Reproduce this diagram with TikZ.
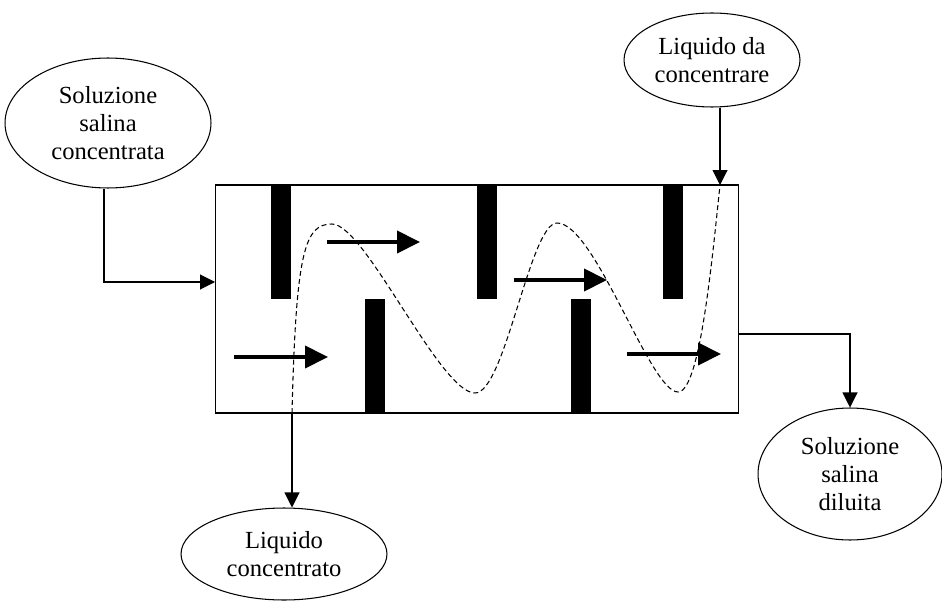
\documentclass[tikz,border=0pt]{standalone}
\usepackage{fontspec}
\setmainfont{Liberation Serif}
\usetikzlibrary{arrows.meta,shapes.geometric}

\tikzset{
  ovale/.style={draw, ellipse, inner sep=0pt, align=center, line width=0.6pt,
    font=\fontsize{14}{16}\selectfont},
  conn/.style={line width=0.6pt, -{Triangle[length=0.3cm,width=0.3cm]}},
  flusso/.style={line width=2.3pt, -{Triangle[length=0.46cm,width=0.44cm]}},
  percorso/.style={line width=0.6pt, dash pattern=on 2.8pt off 1.8pt}
}

\begin{document}
\begin{tikzpicture}[x=0.02cm, y=-0.02cm]

\useasboundingbox (0,0) rectangle (942,601);

\def\wB{20}
\def\hB{114}

\node[draw, line width=0.6pt, minimum width=10.48cm, minimum height=4.56cm] (vasca) at (477,299) {};

\node[ovale, minimum width=4.12cm, minimum height=2.6cm] (ssc) at (108,123) {Soluzione\\salina\\concentrata};
\node[ovale, minimum width=3.52cm, minimum height=1.88cm] (ldc) at (712,60) {Liquido da\\concentrare};
\node[ovale, minimum width=4.12cm, minimum height=1.84cm] (lc) at (284,554) {Liquido\\concentrato};
\node[ovale, minimum width=3.68cm, minimum height=2.64cm] (ssd) at (850,474) {Soluzione\\salina\\diluita};

\coordinate (entrata) at (720,185);
\coordinate (uscita) at (292,413);
\coordinate (sale-in) at (215,282);
\coordinate (sale-out) at (739,334);

\foreach \x in {271,477,663}
  \fill (\x,185) rectangle ++(\wB,\hB);
\foreach \x in {365,571}
  \fill (\x,413) rectangle ++(\wB,-\hB);

\draw[percorso] (uscita) .. controls (296,250) and (305,224) .. (332,224)
  .. controls (365,224) and (440,393) .. (475,393)
  .. controls (505,393) and (530,223) .. (557,223)
  .. controls (595,223) and (650,392) .. (678,392)
  .. controls (700,392) and (712,260) .. (entrata);

\draw[flusso] (234,357) -- (328,357);
\draw[flusso] (327,242) -- (420,242);
\draw[flusso] (514,280) -- (607,280);
\draw[flusso] (627,354) -- (721,354);

\draw[conn] (ssc.south -| 104,0) |- (sale-in);
\draw[conn] (ldc.south -| entrata) -- (entrata);
\draw[conn] (uscita) -- (lc.north -| uscita);
\draw[conn] (sale-out) -| (ssd.north);

\end{tikzpicture}
\end{document}
